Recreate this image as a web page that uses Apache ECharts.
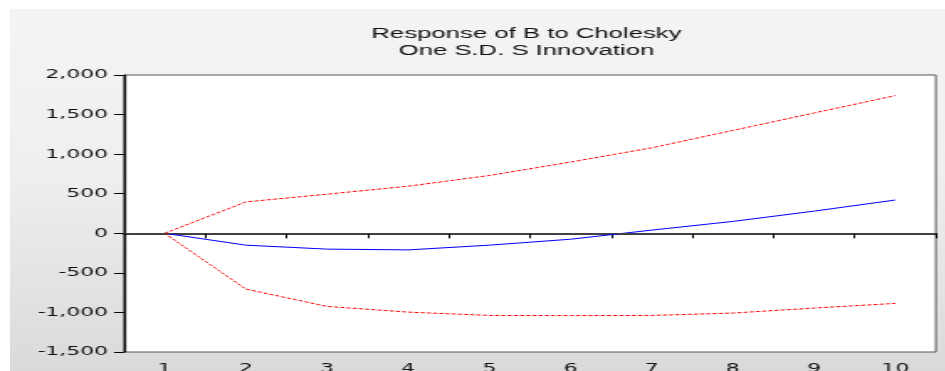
<!DOCTYPE html>
<html>
<head>
<meta charset="utf-8">
<script src="https://cdn.jsdelivr.net/npm/echarts@6/dist/echarts.min.js"></script>
<style>
html,body{margin:0;padding:0;background:#fff;overflow:hidden;}
#wrap{position:relative;width:945px;height:371px;background:#fff;overflow:hidden;}
#bg{position:absolute;left:10px;top:9px;width:935px;height:362px;
  background:linear-gradient(to bottom,#f4f4f4 0%,#efefef 45%,#dadada 100%);}
#chart{position:absolute;left:0;top:0;width:562.5px;height:371px;
  transform:scaleX(1.68);transform-origin:0 0;}
</style>
</head>
<body>
<div id="wrap"><div id="bg"></div><div id="chart"></div></div>
<script>
var categories = ['1','2','3','4','5','6','7','8','9','10'];
var response = [0, -150, -200, -210, -150, -75, 40, 150, 280, 420];
var upperBand = [0, 396, 494, 595, 730, 900, 1080, 1300, 1520, 1740];
var lowerBand = [0, -705, -924, -996, -1038, -1040, -1038, -1008, -945, -886];
var yTickValues = [-1500, -1000, -500, 0, 500, 1000, 1500, 2000];
var titleLines = ['Response of B to Cholesky', 'One S.D. S Innovation'];

var S = 1.68; // horizontal stretch of the reference picture
var chart = echarts.init(document.getElementById('chart'), null, {renderer:'canvas'});
function fmt(v){
  var s = Math.abs(v).toString().replace(/\B(?=(\d{3})+(?!\d))/g, ',');
  return (v < 0 ? '-' : '') + s;
}
var font = 'Arial, "Liberation Sans", sans-serif';
var tickFont = '"DejaVu Sans", Verdana, sans-serif';
chart.setOption({
  animation:false,
  backgroundColor:'transparent',
  title:{
    text: titleLines.join('\n'),
    left: 518 / S, top: 20, textAlign:'center',
    textStyle:{fontFamily:font, fontSize:15.3, fontWeight:'normal', color:'#111', lineHeight:17}
  },
  grid:{left:124 / S, right:10 / S, top:75, bottom:19, outerBoundsMode:'none', containLabel:false,
    show:true, backgroundColor:'#fff', borderColor:'#555', borderWidth:1},
  xAxis:{
    type:'category', data:categories, boundaryGap:true,
    axisLine:{lineStyle:{color:'#000', width:1.5}},
    axisTick:{show:true, length:5, inside:false, lineStyle:{color:'#000'}},
    axisLabel:{fontFamily:tickFont, fontSize:13, color:'#111', margin:10}
  },
  yAxis:{
    type:'value', min:-1500, max:2000, interval:500,
    splitLine:{show:false},
    axisLine:{show:true, lineStyle:{color:'#000', width:1.2}},
    axisTick:{show:true, length:10 / S, lineStyle:{color:'#000'}},
    axisLabel:{fontFamily:tickFont, fontSize:13, color:'#111', margin:16 / S,
      formatter:function(v){ return yTickValues.indexOf(v) >= 0 ? fmt(v) : ''; }}
  },
  series:[
    {type:'line', data:response, symbol:'none', lineStyle:{color:'#0000ff', width:1},
     markLine:{silent:true, symbol:'none', label:{show:false},
       lineStyle:{color:'#444', type:'solid', width:1}, data:[{yAxis:0}]}},
    {type:'line', data:upperBand, symbol:'none', lineStyle:{color:'#ff0000', width:1, type:[2.4,1.3]}},
    {type:'line', data:lowerBand, symbol:'none', lineStyle:{color:'#ff0000', width:1, type:[2.4,1.3]}}
  ]
});
</script>
</body>
</html>
